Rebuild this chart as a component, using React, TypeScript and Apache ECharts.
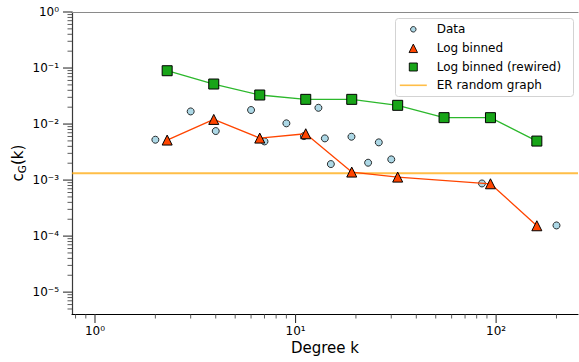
import React, { useEffect, useRef } from "react";
import * as echarts from "echarts";

// Raw per-degree clustering values
const dataK = [2, 3, 4, 6, 7, 9, 11, 13, 14, 15, 19, 23, 26, 30, 85, 200];
const dataC = [0.00525, 0.0168, 0.0075, 0.0178, 0.0049, 0.0103, 0.0061, 0.0195, 0.00555, 0.00193, 0.00594, 0.00204, 0.00471, 0.00234, 0.00087, 0.000155];

// Log-binned averages (original network)
const logBinK = [2.29, 3.91, 6.63, 11.24, 19.06, 32.3, 93.7, 159.6];
const logBinC = [0.00518, 0.0121, 0.00562, 0.00671, 0.00139, 0.00113, 0.000859, 0.000153];

// Log-binned averages (rewired network)
const rewiredK = [2.29, 3.91, 6.63, 11.24, 19.06, 32.3, 55.0, 93.7, 159.6];
const rewiredC = [0.0895, 0.0518, 0.033, 0.0276, 0.0276, 0.0216, 0.013, 0.013, 0.00497];

// Erdős–Rényi reference level
const erLevel = 0.00133;

// Axis limits and tick positions
const X_MIN = 0.768;
const X_MAX = 256;
const Y_MIN = 4.07e-6;
const Y_MAX = 1;
const xTicks = [0.8, 0.9, 1, 2, 3, 4, 5, 6, 7, 8, 9, 10, 20, 30, 40, 50, 60, 70, 80, 90, 100, 200];
const yTicks = (() => {
  const out: number[] = [];
  for (let e = -6; e <= 0; e++) {
    for (let m = 1; m <= 9; m++) {
      const v = m * Math.pow(10, e);
      if (v >= Y_MIN && v <= Y_MAX * 1.0000001) out.push(v);
    }
  }
  return out;
})();

const FONT = "DejaVu Sans";
const SUP: Record<string, string> = {
  "-": "\u207b", "0": "\u2070", "1": "\u00b9", "2": "\u00b2", "3": "\u00b3",
  "4": "\u2074", "5": "\u2075", "6": "\u2076", "7": "\u2077", "8": "\u2078", "9": "\u2079",
};

const isDecade = (v: number) => {
  const l = Math.log10(v);
  return Math.abs(l - Math.round(l)) < 1e-6;
};
const decadeLabel = (v: number) => {
  if (!isDecade(v)) return "";
  const e = String(Math.round(Math.log10(v)));
  return "10" + e.split("").map((c) => SUP[c]).join("");
};

const ER_COLOR = "rgba(255,165,0,0.72)";
const TICK_COLOR = "#333";
const MAJOR_LEN = 9;
const MINOR_LEN = 4.5;

// legend layout: marker column centre, text column start
const LEGEND_MARK_X = 413.3;
const LEGEND_ITEM_W = 27;
const LEGEND_TEXT_PAD = 4.9;
const LEGEND_TEXT_HALF = 5;

export default function App() {
  const ref = useRef<HTMLDivElement>(null);

  useEffect(() => {
    if (!ref.current) return;
    const chart = echarts.init(ref.current, undefined, { renderer: "svg" });

    // one legend block per entry so each marker keeps its own size;
    // the block is placed by its drawn bounds, so offset by half the marker width / text height
    const legendEntry = (centerY: number, iconW: number, itemHeight: number, item: any) => ({
      orient: "vertical",
      left: LEGEND_MARK_X - iconW / 2,
      top: centerY - LEGEND_TEXT_HALF,
      padding: 0,
      itemGap: 0,
      itemWidth: LEGEND_ITEM_W,
      itemHeight,
      selectedMode: false,
      symbolKeepAspect: true,
      z: 11,
      textStyle: { fontFamily: FONT, fontSize: 12, color: "#000", padding: [0, 0, 0, LEGEND_TEXT_PAD] },
      data: [item],
    });

    chart.setOption({
      animation: false,
      backgroundColor: "#fff",
      textStyle: { fontFamily: FONT },
      grid: { left: 72, right: 1, top: 12, bottom: 48, containLabel: false, outerBoundsMode: "none" },
      xAxis: [
        {
          type: "log",
          logBase: 10,
          min: X_MIN,
          max: X_MAX,
          name: "Degree k",
          nameLocation: "middle",
          nameGap: 26,
          nameMoveOverlap: false,
          nameTextStyle: { fontFamily: FONT, fontSize: 15, color: "#000" },
          axisLine: { show: true, lineStyle: { color: "#000", width: 1.2 } },
          axisTick: { show: false },
          splitLine: { show: false },
          minorTick: { show: false },
          axisLabel: {
            margin: 11,
            fontFamily: FONT,
            fontSize: 12,
            color: "#000",
            formatter: (v: number) => decadeLabel(v),
          },
        },
        {
          type: "log",
          logBase: 10,
          min: X_MIN,
          max: X_MAX,
          position: "top",
          axisLine: { show: true, onZero: false, lineStyle: { color: "#8a8a8a", width: 1.2 } },
          axisTick: { show: false },
          axisLabel: { show: false },
          splitLine: { show: false },
        },
      ],
      yAxis: {
        type: "log",
        logBase: 10,
        min: Y_MIN,
        max: Y_MAX,
        name: "{n|c}{s|G}{n|(k)}",
        nameLocation: "middle",
        nameGap: 45,
        nameMoveOverlap: false,
        nameRotate: 90,
        nameTextStyle: {
          fontFamily: FONT,
          fontSize: 15,
          color: "#000",
          rich: {
            n: { fontFamily: FONT, fontSize: 15, color: "#000", lineHeight: 19 },
            s: { fontFamily: FONT, fontSize: 10.5, color: "#000", lineHeight: 11, verticalAlign: "bottom" },
          },
        },
        axisLine: { show: true, onZero: false, lineStyle: { color: "#3a3a3a", width: 1.2 } },
        axisTick: { show: false },
        splitLine: { show: false },
        axisLabel: {
          margin: 13,
          fontFamily: FONT,
          fontSize: 12,
          color: "#000",
          formatter: (v: number) => decadeLabel(v),
        },
      },
      legend: [
        legendEntry(28.3, 6.3, 5.5, {
          name: "Data",
          icon: "circle",
          itemStyle: { color: "#add8e6", borderColor: "#000", borderWidth: 0.8 },
        }),
        legendEntry(47.3, 9.4, 8.5, {
          name: "Log binned",
          icon: "path://M0,-1L1,1L-1,1Z",
          itemStyle: { color: "#ff4500", borderColor: "#000", borderWidth: 0.9 },
        }),
        legendEntry(66, 8.9, 8, {
          name: "Log binned (rewired)",
          icon: "path://M0,0L1,0L1,1L0,1Z",
          itemStyle: { color: "#18a518", borderColor: "#000", borderWidth: 0.9 },
        }),
        legendEntry(84.3, 27, 1.6, {
          name: "ER random graph",
          icon: "path://M0,0L27,0L27,1.6L0,1.6Z",
          itemStyle: { color: ER_COLOR, borderWidth: 0 },
        }),
      ],
      graphic: [
        {
          type: "rect",
          z: 10,
          shape: { x: 395.5, y: 18.5, width: 178, height: 78, r: 3 },
          style: { fill: "rgba(255,255,255,0.85)", stroke: "#d3d3d3", lineWidth: 1 },
        },
      ],
      series: [
        {
          name: "ER random graph",
          type: "line",
          z: 1,
          symbol: "none",
          silent: true,
          itemStyle: { color: ER_COLOR },
          lineStyle: { color: ER_COLOR, width: 2 },
          data: [
            [X_MIN, erLevel],
            [X_MAX, erLevel],
          ],
        },
        {
          name: "Data",
          type: "scatter",
          z: 2,
          symbol: "circle",
          symbolSize: 7,
          itemStyle: { color: "#add8e6", borderColor: "#000", borderWidth: 0.8, opacity: 1 },
          data: dataK.map((k, i) => [k, dataC[i]]),
        },
        {
          name: "Log binned",
          type: "line",
          z: 3,
          symbol: "triangle",
          symbolSize: 10,
          showAllSymbol: true,
          lineStyle: { color: "#ff4500", width: 1.3 },
          itemStyle: { color: "#ff4500", borderColor: "#000", borderWidth: 1 },
          data: logBinK.map((k, i) => [k, logBinC[i]]),
        },
        {
          name: "Log binned (rewired)",
          type: "line",
          z: 4,
          symbol: "rect",
          symbolSize: 10,
          showAllSymbol: true,
          lineStyle: { color: "#2cb82c", width: 1.3 },
          itemStyle: { color: "#18a518", borderColor: "#000", borderWidth: 1 },
          data: rewiredK.map((k, i) => [k, rewiredC[i]]),
        },
        {
          // x-axis ticks (majors at decades, minors in between)
          type: "custom",
          silent: true,
          clip: false,
          z: 5,
          data: xTicks.map((v) => [v, Y_MAX]),
          renderItem: (params: any, api: any) => {
            const v = api.value(0);
            const cs = params.coordSys;
            const x = api.coord([v, Y_MAX])[0];
            const yb = cs.y + cs.height;
            const major = isDecade(v);
            return {
              type: "line",
              shape: { x1: x, y1: yb, x2: x, y2: yb + (major ? MAJOR_LEN : MINOR_LEN) },
              style: { stroke: TICK_COLOR, lineWidth: major ? 1.1 : 0.8 },
            };
          },
        },
        {
          // y-axis ticks
          type: "custom",
          silent: true,
          clip: false,
          z: 5,
          data: yTicks.map((v) => [1, v]),
          renderItem: (params: any, api: any) => {
            const v = api.value(1);
            const cs = params.coordSys;
            const y = api.coord([1, v])[1];
            const xl = cs.x;
            const major = isDecade(v);
            return {
              type: "line",
              shape: { x1: xl, y1: y, x2: xl - (major ? MAJOR_LEN : MINOR_LEN), y2: y },
              style: { stroke: TICK_COLOR, lineWidth: major ? 1.1 : 0.8 },
            };
          },
        },
      ],
    });

    return () => chart.dispose();
  }, []);

  return (
    <div
      ref={ref}
      style={{ position: "fixed", left: 0, top: 0, width: 579, height: 362, background: "#fff" }}
    />
  );
}
